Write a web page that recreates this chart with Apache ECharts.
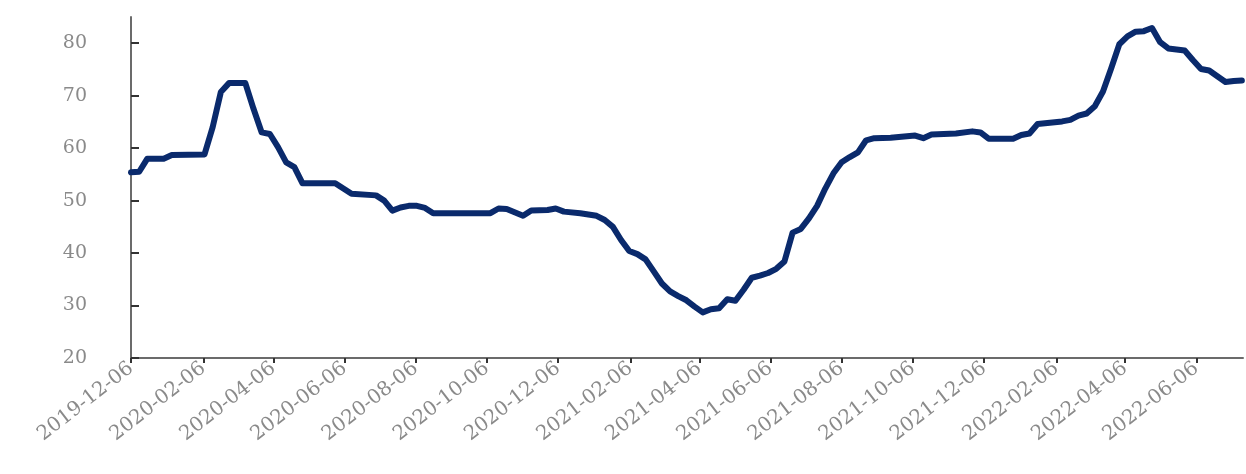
<!DOCTYPE html>
<html>
<head>
<meta charset="utf-8">
<script src="https://cdn.jsdelivr.net/npm/echarts@6/dist/echarts.min.js"></script>
<style>
  html, body { margin: 0; padding: 0; background: #fff; }
  #chart { width: 1246px; height: 474px; }
</style>
</head>
<body>
<div id="chart"></div>
<script>
// weekly points (turning points only)
var dates = [
  '2019-12-06','2019-12-13','2019-12-20','2020-01-03','2020-01-10','2020-02-07','2020-02-14','2020-02-21',
  '2020-02-28','2020-03-13','2020-03-20','2020-03-27','2020-04-03','2020-04-10','2020-04-17','2020-04-24',
  '2020-05-01','2020-05-29','2020-06-05','2020-06-12','2020-07-03','2020-07-10','2020-07-17','2020-07-24',
  '2020-07-31','2020-08-07','2020-08-14','2020-08-21','2020-10-09','2020-10-16','2020-10-23','2020-11-06',
  '2020-11-13','2020-11-27','2020-12-04','2020-12-11','2020-12-25','2021-01-08','2021-01-15','2021-01-22',
  '2021-01-29','2021-02-05','2021-02-12','2021-02-19','2021-02-26','2021-03-05','2021-03-12','2021-03-19',
  '2021-03-26','2021-04-02','2021-04-09','2021-04-16','2021-04-23','2021-04-30','2021-05-07','2021-05-14',
  '2021-05-21','2021-05-28','2021-06-04','2021-06-11','2021-06-18','2021-06-25','2021-07-02','2021-07-09',
  '2021-07-16','2021-07-23','2021-07-30','2021-08-06','2021-08-13','2021-08-20','2021-08-27','2021-09-03',
  '2021-09-17','2021-10-08','2021-10-15','2021-10-22','2021-11-12','2021-11-26','2021-12-03','2021-12-10',
  '2021-12-31','2022-01-07','2022-01-14','2022-01-21','2022-02-11','2022-02-18','2022-02-25','2022-03-04',
  '2022-03-11','2022-03-18','2022-03-25','2022-04-01','2022-04-08','2022-04-15','2022-04-22','2022-04-29',
  '2022-05-06','2022-05-13','2022-05-20','2022-05-27','2022-06-03','2022-06-10','2022-06-17','2022-06-24',
  '2022-07-01','2022-07-08','2022-07-15'
];
var values = [
  55.4, 55.5, 58.0, 58.0, 58.7, 58.8, 64.0, 70.7,
  72.4, 72.4, 67.5, 63.0, 62.7, 60.2, 57.3, 56.4,
  53.3, 53.3, 52.3, 51.3, 51.0, 50.0, 48.1, 48.7,
  49.0, 49.0, 48.6, 47.6, 47.6, 48.5, 48.4, 47.1,
  48.1, 48.2, 48.5, 47.9, 47.6, 47.1, 46.3, 45.0,
  42.5, 40.4, 39.8, 38.8, 36.5, 34.2, 32.7, 31.8,
  31.0, 29.8, 28.7, 29.3, 29.5, 31.2, 30.9, 33.0,
  35.3, 35.7, 36.2, 37.0, 38.4, 43.9, 44.6, 46.6,
  49.0, 52.3, 55.2, 57.3, 58.3, 59.2, 61.5, 61.9,
  62.0, 62.4, 61.9, 62.6, 62.8, 63.2, 63.0, 61.8,
  61.8, 62.5, 62.8, 64.6, 65.1, 65.4, 66.2, 66.6,
  68.0, 70.8, 75.2, 79.8, 81.3, 82.2, 82.3, 82.9,
  80.2, 79.0, 78.8, 78.6, 76.8, 75.1, 74.8, 73.7,
  72.6, 72.8, 72.9
];
var xTicks = [
  '2019-12-06','2020-02-06','2020-04-06','2020-06-06','2020-08-06','2020-10-06','2020-12-06','2021-02-06',
  '2021-04-06','2021-06-06','2021-08-06','2021-10-06','2021-12-06','2022-02-06','2022-04-06','2022-06-06'
];
var yTicks = [20, 30, 40, 50, 60, 70, 80];

function ts(d) {
  var p = d.split('-');
  return Date.UTC(+p[0], +p[1] - 1, +p[2]);
}
function fmt(v) {
  var d = new Date(v);
  var m = d.getUTCMonth() + 1, day = d.getUTCDate();
  return d.getUTCFullYear() + '-' + (m < 10 ? '0' : '') + m + '-' + (day < 10 ? '0' : '') + day;
}

var tickValues = xTicks.map(ts);
var seriesData = dates.map(function (d, i) { return [ts(d), values[i]]; });

var option = {
  animation: false,
  grid: {
    left: 131,
    right: 3,
    top: 17,
    bottom: 116,
    outerBoundsMode: 'none'
  },
  xAxis: {
    type: 'value',
    min: ts('2019-12-06'),
    max: ts('2022-07-16'),
    splitLine: { show: false },
    axisLine: { lineStyle: { color: '#6b6b6b', width: 2 } },
    axisTick: {
      customValues: tickValues,
      length: 5,
      lineStyle: { color: '#333', width: 2 }
    },
    axisLabel: {
      customValues: tickValues,
      formatter: function (v) { return fmt(v); },
      rotate: 38,
      margin: 8,
      color: '#8a8a8a',
      fontFamily: 'DejaVu Serif',
      fontSize: 20
    }
  },
  yAxis: {
    type: 'value',
    min: 20,
    max: 85,
    splitLine: { show: false },
    axisLine: { show: true, lineStyle: { color: '#6b6b6b', width: 2 } },
    axisTick: {
      show: true,
      inside: true,
      length: 8,
      customValues: yTicks,
      lineStyle: { color: '#333', width: 2 }
    },
    axisLabel: {
      customValues: yTicks,
      margin: 44,
      color: '#8a8a8a',
      fontFamily: 'DejaVu Serif',
      fontSize: 19
    }
  },
  series: [
    {
      type: 'line',
      data: seriesData,
      showSymbol: false,
      lineStyle: { color: '#0a2a6c', width: 6, cap: 'round', join: 'round' }
    }
  ]
};

var chart = echarts.init(document.getElementById('chart'));
chart.setOption(option);
</script>
</body>
</html>
